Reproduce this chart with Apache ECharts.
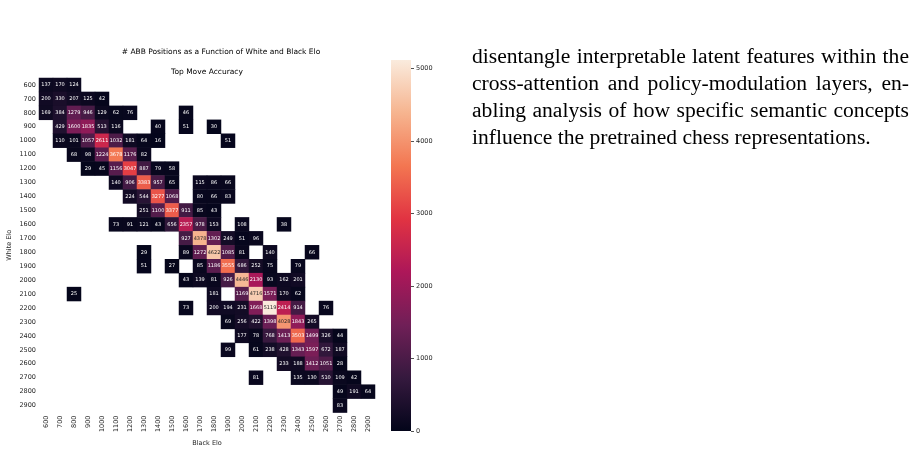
<!DOCTYPE html>
<html>
<head>
<meta charset="utf-8">
<script src="https://cdn.jsdelivr.net/npm/echarts@6/dist/echarts.min.js"></script>
<style>
  html, body { margin: 0; padding: 0; background: #fff; }
  #chart { position: absolute; left: 0; top: 0; width: 918px; height: 452px; }
  .para { position: absolute; left: 472px; top: 43px; width: 437px;
          font-family: "Liberation Serif", serif; font-size: 21.6px; line-height: 27px; color: #000; }
  .para div { text-align: justify; text-align-last: justify; white-space: nowrap; }
  .para div.last { text-align-last: left; }
</style>
</head>
<body>
<div id="chart"></div>
<div class="para">
  <div>disentangle interpretable latent features within the</div>
  <div>cross-attention and policy-modulation layers, en-</div>
  <div>abling analysis of how specific semantic concepts</div>
  <div class="last">influence the pretrained chess representations.</div>
</div>
<script>
// elo buckets (same for both axes)
const eloLabels = ['600', '700', '800', '900', '1000', '1100', '1200', '1300', '1400', '1500', '1600', '1700',
  '1800', '1900', '2000', '2100', '2200', '2300', '2400', '2500', '2600', '2700', '2800', '2900']
const colorbarTicks = [0, 1000, 2000, 3000, 4000, 5000]

// one array per White Elo row: [Black Elo, count]
const w600 = [[600, 137], [700, 170], [800, 124]]
const w700 = [[600, 200], [700, 330], [800, 207], [900, 125], [1000, 42]]
const w800 = [[600, 169], [700, 384], [800, 1279], [900, 946], [1000, 129], [1100, 62], [1200, 76], [1600, 46]]
const w900 = [[700, 429], [800, 1600], [900, 1835], [1000, 513], [1100, 116], [1400, 40], [1600, 51], [1800, 30]]
const w1000 = [[700, 110], [800, 101], [900, 1057], [1000, 2611], [1100, 1032], [1200, 181], [1300, 64], [1400, 16], [1900, 51]]
const w1100 = [[800, 68], [900, 98], [1000, 1224], [1100, 3678], [1200, 1176], [1300, 82]]
const w1200 = [[900, 29], [1000, 45], [1100, 1156], [1200, 3047], [1300, 887], [1400, 79], [1500, 58]]
const w1300 = [[1100, 140], [1200, 906], [1300, 3383], [1400, 957], [1500, 65], [1700, 115], [1800, 86], [1900, 66]]
const w1400 = [[1200, 224], [1300, 544], [1400, 3277], [1500, 1068], [1700, 80], [1800, 66], [1900, 83]]
const w1500 = [[1300, 251], [1400, 1100], [1500, 3377], [1600, 911], [1700, 85], [1800, 43]]
const w1600 = [[1100, 73], [1200, 91], [1300, 121], [1400, 43], [1500, 656], [1600, 2357], [1700, 978], [1800, 153], [2000, 108], [2300, 38]]
const w1700 = [[1600, 927], [1700, 4378], [1800, 1302], [1900, 249], [2000, 51], [2100, 96]]
const w1800 = [[1300, 29], [1600, 89], [1700, 1272], [1800, 4622], [1900, 1085], [2000, 81], [2200, 140], [2500, 66]]
const w1900 = [[1300, 51], [1500, 27], [1700, 85], [1800, 1186], [1900, 3555], [2000, 686], [2100, 252], [2200, 75], [2400, 79]]
const w2000 = [[1600, 43], [1700, 139], [1800, 81], [1900, 926], [2000, 4446], [2100, 2130], [2200, 93], [2300, 162], [2400, 201]]
const w2100 = [[800, 25], [1800, 181], [2000, 1169], [2100, 4716], [2200, 1571], [2300, 170], [2400, 62]]
const w2200 = [[1600, 73], [1800, 200], [1900, 194], [2000, 231], [2100, 1668], [2200, 5119], [2300, 2414], [2400, 914], [2600, 76]]
const w2300 = [[1900, 69], [2000, 256], [2100, 422], [2200, 1398], [2300, 4028], [2400, 1843], [2500, 265]]
const w2400 = [[2000, 177], [2100, 78], [2200, 768], [2300, 1413], [2400, 3503], [2500, 1499], [2600, 326], [2700, 44]]
const w2500 = [[1900, 99], [2100, 61], [2200, 238], [2300, 428], [2400, 1343], [2500, 1597], [2600, 672], [2700, 187]]
const w2600 = [[2300, 233], [2400, 188], [2500, 1412], [2600, 1051], [2700, 28]]
const w2700 = [[2100, 81], [2400, 135], [2500, 130], [2600, 510], [2700, 109], [2800, 42]]
const w2800 = [[2700, 49], [2800, 191], [2900, 64]]
const w2900 = [[2700, 83]]

const rows = [w600, w700, w800, w900, w1000, w1100, w1200, w1300, w1400, w1500, w1600, w1700,
  w1800, w1900, w2000, w2100, w2200, w2300, w2400, w2500, w2600, w2700, w2800, w2900]

// seaborn "rocket"
const rocket = ['#03051a', '#35193e', '#701f57', '#ad1759', '#e13342', '#f37651', '#f6b48f', '#faebdd']
const vmax = 5119
const txt = '#262626'

const cells = []
rows.forEach((row, yi) => {
  row.forEach(([black, n]) => {
    cells.push({
      value: [eloLabels.indexOf(String(black)), yi, n],
      label: { color: n > 3900 ? txt : '#ffffff' } // light cells get dark text
    })
  })
})

// colorbar rect, and a 1px grid on its right edge that carries the tick axis
const cbar = { left: 391, top: 60, width: 20, height: 371 }
const cbarAxis = { left: cbar.left + cbar.width, top: cbar.top, width: 1, height: cbar.height }

const chart = echarts.init(document.getElementById('chart'), null, { renderer: 'canvas' })
chart.setOption({
  animation: false,
  textStyle: { fontFamily: 'DejaVu Sans' },
  graphic: [
    {
      type: 'text', x: 221, y: 52,
      style: { text: '# ABB Positions as a Function of White and Black Elo', fontSize: 7.5, fill: '#000',
        fontFamily: 'DejaVu Sans', align: 'center', verticalAlign: 'middle' }
    },
    {
      type: 'text', x: 207, y: 72,
      style: { text: 'Top Move Accuracy', fontSize: 7.5, fill: '#000',
        fontFamily: 'DejaVu Sans', align: 'center', verticalAlign: 'middle' }
    },
    {
      type: 'rect', z: -1,
      shape: { x: cbar.left, y: cbar.top, width: cbar.width, height: cbar.height },
      style: {
        fill: new echarts.graphic.LinearGradient(0, 1, 0, 0,
          rocket.map((c, i) => ({ offset: i / (rocket.length - 1), color: c })))
      }
    }
  ],
  grid: [
    { left: 39, top: 78, width: 336, height: 336 },
    cbarAxis
  ],
  xAxis: [
    {
      type: 'category', data: eloLabels, gridIndex: 0,
      axisLine: { show: false },
      axisTick: { alignWithLabel: true, length: 3, lineStyle: { color: txt, width: 0.8 } },
      axisLabel: { rotate: 90, interval: 0, fontSize: 6.5, color: txt, margin: 3 },
      splitLine: { show: false },
      name: 'Black Elo', nameLocation: 'middle', nameGap: 26,
      nameTextStyle: { fontSize: 6.5, color: txt }
    },
    { type: 'value', gridIndex: 1, show: false }
  ],
  yAxis: [
    {
      type: 'category', data: eloLabels, gridIndex: 0, inverse: true,
      axisLine: { show: false },
      axisTick: { alignWithLabel: true, length: 3, lineStyle: { color: txt, width: 0.8 } },
      axisLabel: { interval: 0, fontSize: 6.5, color: txt, margin: 3 },
      splitLine: { show: false },
      name: 'White Elo', nameLocation: 'middle', nameGap: 26, nameRotate: 90,
      nameTextStyle: { fontSize: 6.5, color: txt }
    },
    {
      // left axis of the thin grid, ticks and labels turned inward = to the right of the bar
      type: 'value', gridIndex: 1, position: 'left', min: 0, max: vmax,
      axisLine: { show: false },
      axisTick: { show: true, inside: true, length: 3, customValues: colorbarTicks, lineStyle: { color: txt, width: 0.8 } },
      axisLabel: { inside: true, fontSize: 6.5, color: txt, margin: 5, customValues: colorbarTicks,
        formatter: v => String(v) },
      splitLine: { show: false }
    }
  ],
  visualMap: {
    type: 'continuous', show: false, min: 0, max: vmax, seriesIndex: 0, dimension: 2,
    inRange: { color: rocket }
  },
  series: [
    {
      type: 'heatmap', xAxisIndex: 0, yAxisIndex: 0, data: cells,
      label: { show: true, fontSize: 5, fontFamily: 'DejaVu Sans' },
      itemStyle: { borderWidth: 0 },
      emphasis: { disabled: true }
    }
  ]
})
</script>
</body>
</html>
